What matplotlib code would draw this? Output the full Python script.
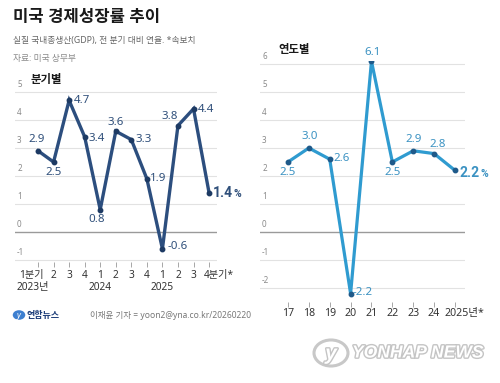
import matplotlib
matplotlib.use("Agg")
import matplotlib.pyplot as plt
import matplotlib.patheffects as pe
from matplotlib.patches import Circle

plt.rcParams['font.family'] = ['Noto Sans', 'Noto Sans CJK KR', 'DejaVu Sans']

# ---------------- data ----------------
q_labels = ["1분기", "2", "3", "4", "1", "2", "3", "4", "1", "2", "3", "4분기*"]
q_years = {0: "2023년", 4: "2024", 8: "2025"}
q_values = [2.9, 2.5, 4.7, 3.4, 0.8, 3.6, 3.3, 1.9, -0.6, 3.8, 4.4, 1.4]

y_labels = ["17", "18", "19", "20", "21", "22", "23", "24", "2025년*"]
y_values = [2.5, 3.0, 2.6, -2.2, 6.1, 2.5, 2.9, 2.8, 2.2]

left_yticks = [-1, 0, 1, 2, 3, 4, 5]
right_yticks = [-2, -1, 0, 1, 2, 3, 4, 5, 6]

# label placement (offset in points, horizontal alignment)
q_label_pos = [((-0.7, 8), 'center'), ((0, -7.5), 'center'), ((3.6, 0), 'left'),
               ((2.5, -1), 'left'), ((-2.5, -6.8), 'center'), ((0, 6.5), 'center'),
               ((3, 0), 'left'), ((2.5, 0.5), 'left'), ((3.5, 2), 'left'),
               ((-6, 6.5), 'center'), ((3, -0.5), 'left'), ((3, 0), 'left')]
y_label_pos = [((0, -7.5), 'center'), ((1, 8), 'center'), ((2.5, 0.5), 'left'),
               ((1.5, 0.5), 'left'), ((1, 6), 'center'), ((0, -7.5), 'center'),
               ((0.5, 8), 'center'), ((2.5, 6.5), 'center'), ((3.5, -2), 'left')]

W, H = 500, 383
fig = plt.figure(figsize=(W / 100, H / 100), dpi=100)
fig.patch.set_facecolor('white')

def fx(px):
    return px / W

def fy(py):
    return 1 - py / H

NAVY = '#2c4e7e'
NAVY_TXT = '#2f4f7a'
CYAN = '#2f9bd0'
CYAN_TXT = '#3b92c2'
DOT_R = '#1f5a8a'
GRID = '#e2e2e2'
ZERO = '#9a9a9a'
TICK_TXT = '#333333'
YLAB = '#8a8a8a'
BOLD_FAM = ['Roboto', 'DejaVu Sans']


def style_axes(ax, yticks):
    for s in ax.spines.values():
        s.set_visible(False)
    ax.set_yticks([])
    for v in yticks:
        ax.axhline(v, color=ZERO if v == 0 else GRID, lw=1.0 if v == 0 else 0.8, zorder=0)
        ax.annotate(str(v), xy=(0, v), xycoords=('axes fraction', 'data'),
                    xytext=(1.5, 2), textcoords='offset points', ha='left', va='bottom',
                    fontsize=5.8, color=YLAB)
    ax.tick_params(axis='x', direction='out', length=3.5, width=0.6, color='#999999',
                   labelbottom=False)


# ---------------- left panel ----------------
axL = fig.add_axes([fx(15), fy(262), fx(217) - fx(15), fy(88) - fy(262)])
axL.set_xlim(-1.48, 11.51)
axL.set_ylim(-1.071, 5.143)
style_axes(axL, left_yticks)
xq = list(range(len(q_values)))
axL.set_xticks(xq)
axL.plot(xq, q_values, color=NAVY, lw=2.4, marker='o', ms=3.2,
         mfc='#1d3a63', mec='#1d3a63', zorder=3, solid_joinstyle='miter')

for i, (v, (off, ha)) in enumerate(zip(q_values, q_label_pos)):
    if i == len(q_values) - 1:
        t = axL.annotate(f"{v:.1f}", xy=(i, v), xytext=off, textcoords='offset points',
                         ha='left', va='center', fontsize=10, fontweight='bold',
                         family=BOLD_FAM, color=NAVY_TXT)
        axL.annotate('%', xy=(1, 0.5), xycoords=t, xytext=(0.4, -0.8), textcoords='offset points',
                     ha='left', va='center', fontsize=7.5, fontweight='bold',
                     family=BOLD_FAM, color=NAVY_TXT)
    else:
        axL.annotate(f"{v:.1f}", xy=(i, v), xytext=off, textcoords='offset points',
                     ha=ha, va='center', fontsize=8.3, color=NAVY_TXT)

for i, lab in enumerate(q_labels):
    if i == 0:
        ha, dx = 'center', -4.5
    elif i == len(q_labels) - 1:
        ha, dx = 'left', -3.8
    else:
        ha, dx = 'center', 0
    axL.annotate(lab, xy=(i, 0), xycoords=('data', 'axes fraction'), xytext=(dx, -9.5),
                 textcoords='offset points', ha=ha, va='center', fontsize=7.3, color=TICK_TXT)
for i, lab in q_years.items():
    dx = -4 if i == 0 else 0
    axL.annotate(lab, xy=(i, 0), xycoords=('data', 'axes fraction'), xytext=(dx, -18.3),
                 textcoords='offset points', ha='center', va='center', fontsize=7.3, color=TICK_TXT)

# ---------------- right panel ----------------
axR = fig.add_axes([fx(260), fy(302), fx(465) - fx(260), fy(61) - fy(302)])
axR.set_xlim(-1.34, 8.48)
axR.set_ylim(-2.5, 6.107)
style_axes(axR, right_yticks)
xy = list(range(len(y_values)))
axR.set_xticks(xy)
axR.plot(xy, y_values, color=CYAN, lw=2.3, marker='o', ms=3.2,
         mfc=DOT_R, mec=DOT_R, zorder=3, solid_joinstyle='miter')

for i, (v, (off, ha)) in enumerate(zip(y_values, y_label_pos)):
    if i == len(y_values) - 1:
        t = axR.annotate(f"{v:.1f}", xy=(i, v), xytext=off, textcoords='offset points',
                         ha='left', va='center', fontsize=10, fontweight='bold',
                         family=BOLD_FAM, color=CYAN_TXT)
        axR.annotate('%', xy=(1, 0.5), xycoords=t, xytext=(0.4, -0.8), textcoords='offset points',
                     ha='left', va='center', fontsize=7.5, fontweight='bold',
                     family=BOLD_FAM, color=CYAN_TXT)
    else:
        axR.annotate(f"{v:.1f}", xy=(i, v), xytext=off, textcoords='offset points',
                     ha=ha, va='center', fontsize=8.3, color=CYAN_TXT)

for i, lab in enumerate(y_labels):
    if i == len(y_labels) - 1:
        ha, dx = 'left', -7.5
    else:
        ha, dx = 'center', 0
    axR.annotate(lab, xy=(i, 0), xycoords=('data', 'axes fraction'), xytext=(dx, -8),
                 textcoords='offset points', ha=ha, va='center', fontsize=7.6, color=TICK_TXT)

# ---------------- texts ----------------
fig.text(fx(13), fy(18), "미국 경제성장률 추이", fontsize=12, fontweight='bold',
         color='#1a1a1a', ha='left', va='center')
fig.text(fx(13), fy(41), "실질 국내총생산(GDP), 전 분기 대비 연율. *속보치", fontsize=6.3,
         color='#666666', ha='left', va='center')
fig.text(fx(13), fy(58), "자료: 미국 상무부", fontsize=6.3, color='#8a8a8a', ha='left', va='center')
fig.text(fx(31), fy(80), "분기별", fontsize=8.2, fontweight='bold', color='#1a1a1a',
         ha='left', va='center')
fig.text(fx(278), fy(51), "연도별", fontsize=8.2, fontweight='bold', color='#1a1a1a',
         ha='left', va='center')

# footer
fig.patches.append(Circle((fx(19), fy(315)), 0.0125, transform=fig.transFigure,
                          facecolor='#3d7fd0', edgecolor='none'))
fig.text(fx(19), fy(315.5), "y", fontsize=6, fontstyle='italic', fontweight='bold',
         color='white', ha='center', va='center')
fig.text(fx(27), fy(315), "연합뉴스", fontsize=6.5, fontweight='bold', color='#1f3f7a',
         ha='left', va='center')
fig.text(fx(90), fy(315), "이재윤 기자 = yoon2@yna.co.kr/20260220", fontsize=6.1,
         color='#777777', ha='left', va='center')

# watermark
fig.patches.append(Circle((fx(331), fy(353)), 0.034, transform=fig.transFigure,
                          facecolor='white', edgecolor='#c8c8c8', lw=2.2))
fig.text(fx(331), fy(354), "y", fontsize=15, fontstyle='italic', fontweight='bold',
         color='white', ha='center', va='center', family='Liberation Sans',
         path_effects=[pe.withStroke(linewidth=2, foreground='#c4c4c4')])
fig.text(fx(352), fy(353), "YONHAP NEWS", fontsize=12.6, fontstyle='italic', fontweight='bold',
         color='white', ha='left', va='center', family='Liberation Sans',
         path_effects=[pe.withStroke(linewidth=2, foreground='#c4c4c4')])

fig.savefig("out.png", dpi=100, facecolor='white')
